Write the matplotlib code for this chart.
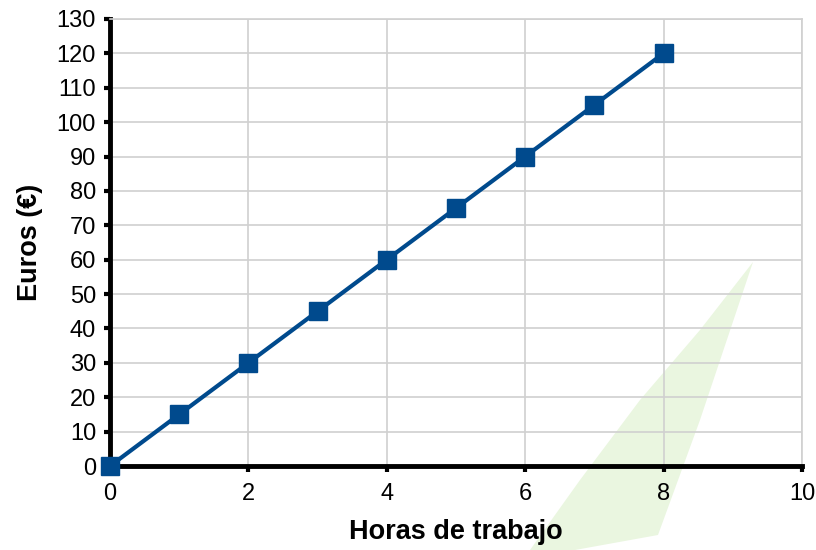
import matplotlib
matplotlib.use('Agg')
import matplotlib.pyplot as plt
from matplotlib.patches import Polygon

plt.rcParams['font.family'] = ['Liberation Sans', 'DejaVu Sans']

horas = [0, 1, 2, 3, 4, 5, 6, 7, 8]
euros = [0, 15, 30, 45, 60, 75, 90, 105, 120]

fig = plt.figure(figsize=(8.16, 5.5), dpi=100)
ax = fig.add_axes([0.1348, 0.1527, 0.848, 0.8128])
ax.set_zorder(1)

# decorative light green shape in the lower right
px = [(753, 262), (700, 330), (640, 400), (580, 480), (530, 550), (575, 550), (658, 535), (700, 420)]
verts = [(x / 816, 1 - y / 550) for x, y in px]
fig.patches.append(Polygon(verts, closed=True, transform=fig.transFigure,
                           facecolor='#eaf6e0', edgecolor='none', zorder=-1))
ax.patch.set_alpha(0)

ax.plot(horas, euros, color='#004a8d', lw=3, marker='s', markersize=13.5,
        markeredgecolor='#004a8d', clip_on=False, zorder=5)

ax.set_xlim(0, 10)
ax.set_ylim(0, 130)
ax.set_xticks(range(0, 11, 2))
ax.set_yticks(range(0, 131, 10))
ax.grid(True, color='#d0d0d0', lw=1.2)
ax.set_axisbelow(True)

for s in ['top', 'right']:
    ax.spines[s].set_color('#d0d0d0')
    ax.spines[s].set_linewidth(1.2)
for s in ['left', 'bottom']:
    ax.spines[s].set_color('black')
    ax.spines[s].set_linewidth(3.5)

ax.tick_params(axis='both', direction='out', length=4, width=3, labelsize=17, color='black')
ax.tick_params(axis='y', pad=6)
ax.tick_params(axis='x', pad=8)

ax.set_xlabel('Horas de trabajo', fontsize=19.5, fontweight='bold', labelpad=10)
ax.set_ylabel('Euros (€)', fontsize=19.5, fontweight='bold', labelpad=10)

fig.savefig('out.png', dpi=100)
